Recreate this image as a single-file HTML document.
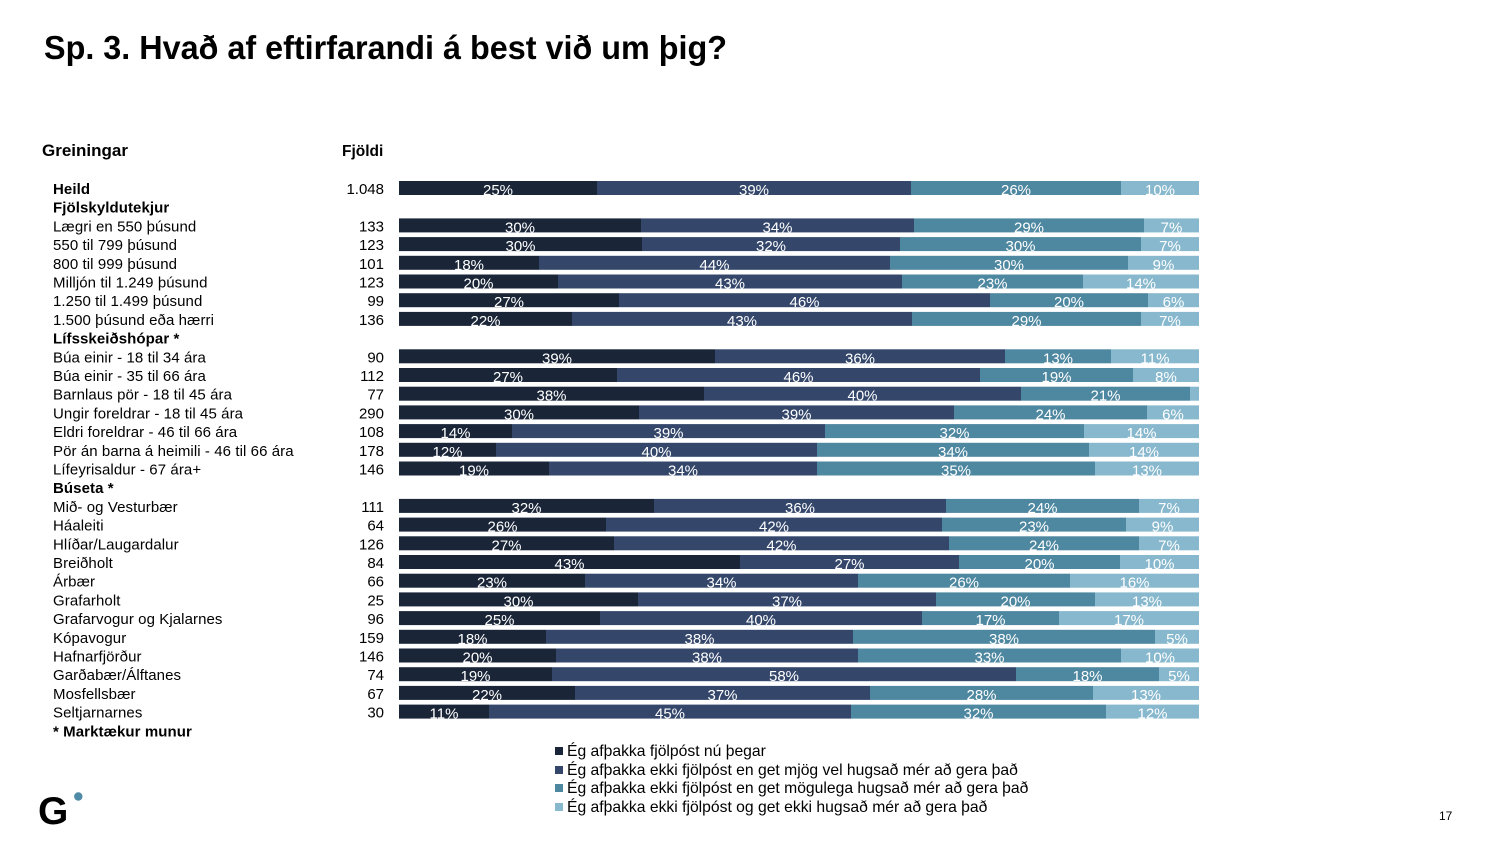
<!DOCTYPE html>
<html><head><meta charset="utf-8"><style>
html,body{margin:0;padding:0;background:#fff;}
svg{display:block;font-family:"Liberation Sans",Arial,sans-serif;}
.l{font-size:15px;fill:#000;letter-spacing:0.08px;}
.g{font-size:15.7px;fill:#000;}
.b{font-weight:bold;}
.n{font-size:15px;fill:#000;text-anchor:end;}
.p{font-size:15px;fill:#fff;text-anchor:middle;}
</style></head><body>
<svg width="1500" height="844" viewBox="0 0 1500 844" xmlns="http://www.w3.org/2000/svg">
<rect width="1500" height="844" fill="#fff"/>
<text x="44" y="59" font-size="33" font-weight="bold" textLength="683" lengthAdjust="spacingAndGlyphs">Sp. 3. Hvað af eftirfarandi á best við um þig?</text>
<text x="42" y="156" font-size="17" font-weight="bold">Greiningar</text>
<text x="342" y="156" font-size="15.5" font-weight="bold">Fjöldi</text>

<g>
<text class="l b" x="53" y="194">Heild</text>
<text class="l b" x="53" y="212.7">Fjölskyldutekjur</text>
<text class="l" x="53" y="231.4">Lægri en 550 þúsund</text>
<text class="l" x="53" y="250.1">550 til 799 þúsund</text>
<text class="l" x="53" y="268.8">800 til 999 þúsund</text>
<text class="l" x="53" y="287.5">Milljón til 1.249 þúsund</text>
<text class="l" x="53" y="306.2">1.250 til 1.499 þúsund</text>
<text class="l" x="53" y="324.9">1.500 þúsund eða hærri</text>
<text class="l b" x="53" y="343.6">Lífsskeiðshópar *</text>
<text class="l" x="53" y="362.3">Búa einir - 18 til 34 ára</text>
<text class="l" x="53" y="381">Búa einir - 35 til 66 ára</text>
<text class="l" x="53" y="399.7">Barnlaus pör - 18 til 45 ára</text>
<text class="l" x="53" y="418.4">Ungir foreldrar - 18 til 45 ára</text>
<text class="l" x="53" y="437.1">Eldri foreldrar - 46 til 66 ára</text>
<text class="l" x="53" y="455.8">Pör án barna á heimili - 46 til 66 ára</text>
<text class="l" x="53" y="474.5">Lífeyrisaldur - 67 ára+</text>
<text class="l b" x="53" y="493.2">Búseta *</text>
<text class="l" x="53" y="511.9">Mið- og Vesturbær</text>
<text class="l" x="53" y="530.6">Háaleiti</text>
<text class="l" x="53" y="549.3">Hlíðar/Laugardalur</text>
<text class="l" x="53" y="568">Breiðholt</text>
<text class="l" x="53" y="586.7">Árbær</text>
<text class="l" x="53" y="605.4">Grafarholt</text>
<text class="l" x="53" y="624.1">Grafarvogur og Kjalarnes</text>
<text class="l" x="53" y="642.8">Kópavogur</text>
<text class="l" x="53" y="661.5">Hafnarfjörður</text>
<text class="l" x="53" y="680.2">Garðabær/Álftanes</text>
<text class="l" x="53" y="698.9">Mosfellsbær</text>
<text class="l" x="53" y="717.6">Seltjarnarnes</text>
<text class="l b" x="53" y="736.3">* Marktækur munur</text>

<text class="n" x="384" y="194">1.048</text>
<text class="n" x="384" y="231.4">133</text>
<text class="n" x="384" y="250.1">123</text>
<text class="n" x="384" y="268.8">101</text>
<text class="n" x="384" y="287.5">123</text>
<text class="n" x="384" y="306.2">99</text>
<text class="n" x="384" y="324.9">136</text>
<text class="n" x="384" y="362.3">90</text>
<text class="n" x="384" y="381">112</text>
<text class="n" x="384" y="399.7">77</text>
<text class="n" x="384" y="418.4">290</text>
<text class="n" x="384" y="437.1">108</text>
<text class="n" x="384" y="455.8">178</text>
<text class="n" x="384" y="474.5">146</text>
<text class="n" x="384" y="511.9">111</text>
<text class="n" x="384" y="530.6">64</text>
<text class="n" x="384" y="549.3">126</text>
<text class="n" x="384" y="568">84</text>
<text class="n" x="384" y="586.7">66</text>
<text class="n" x="384" y="605.4">25</text>
<text class="n" x="384" y="624.1">96</text>
<text class="n" x="384" y="642.8">159</text>
<text class="n" x="384" y="661.5">146</text>
<text class="n" x="384" y="680.2">74</text>
<text class="n" x="384" y="698.9">67</text>
<text class="n" x="384" y="717.6">30</text>
</g>

<!-- bars -->
<g transform="translate(0,181)"><rect x="399" y="0" width="198" height="14" fill="#1a2638"/><rect x="597" y="0" width="314" height="14" fill="#34476b"/><rect x="911" y="0" width="210" height="14" fill="#4e87a0"/><rect x="1121" y="0" width="78" height="14" fill="#87b8cd"/><text class="p" x="498" y="14">25%</text><text class="p" x="754" y="14">39%</text><text class="p" x="1016" y="14">26%</text><text class="p" x="1160" y="14">10%</text></g>
<g transform="translate(0,218.4)"><rect x="399" y="0" width="242" height="14" fill="#1a2638"/><rect x="641" y="0" width="273" height="14" fill="#34476b"/><rect x="914" y="0" width="230" height="14" fill="#4e87a0"/><rect x="1144" y="0" width="55" height="14" fill="#87b8cd"/><text class="p" x="520" y="14">30%</text><text class="p" x="777.5" y="14">34%</text><text class="p" x="1029" y="14">29%</text><text class="p" x="1171.5" y="14">7%</text></g>
<g transform="translate(0,237.1)"><rect x="399" y="0" width="243" height="14" fill="#1a2638"/><rect x="642" y="0" width="258" height="14" fill="#34476b"/><rect x="900" y="0" width="241" height="14" fill="#4e87a0"/><rect x="1141" y="0" width="58" height="14" fill="#87b8cd"/><text class="p" x="520.5" y="14">30%</text><text class="p" x="771" y="14">32%</text><text class="p" x="1020.5" y="14">30%</text><text class="p" x="1170" y="14">7%</text></g>
<g transform="translate(0,255.8)"><rect x="399" y="0" width="140" height="14" fill="#1a2638"/><rect x="539" y="0" width="351" height="14" fill="#34476b"/><rect x="890" y="0" width="238" height="14" fill="#4e87a0"/><rect x="1128" y="0" width="71" height="14" fill="#87b8cd"/><text class="p" x="469" y="14">18%</text><text class="p" x="714.5" y="14">44%</text><text class="p" x="1009" y="14">30%</text><text class="p" x="1163.5" y="14">9%</text></g>
<g transform="translate(0,274.5)"><rect x="399" y="0" width="159" height="14" fill="#1a2638"/><rect x="558" y="0" width="344" height="14" fill="#34476b"/><rect x="902" y="0" width="181" height="14" fill="#4e87a0"/><rect x="1083" y="0" width="116" height="14" fill="#87b8cd"/><text class="p" x="478.5" y="14">20%</text><text class="p" x="730" y="14">43%</text><text class="p" x="992.5" y="14">23%</text><text class="p" x="1141" y="14">14%</text></g>
<g transform="translate(0,293.2)"><rect x="399" y="0" width="220" height="14" fill="#1a2638"/><rect x="619" y="0" width="371" height="14" fill="#34476b"/><rect x="990" y="0" width="158" height="14" fill="#4e87a0"/><rect x="1148" y="0" width="51" height="14" fill="#87b8cd"/><text class="p" x="509" y="14">27%</text><text class="p" x="804.5" y="14">46%</text><text class="p" x="1069" y="14">20%</text><text class="p" x="1173.5" y="14">6%</text></g>
<g transform="translate(0,311.9)"><rect x="399" y="0" width="173" height="14" fill="#1a2638"/><rect x="572" y="0" width="340" height="14" fill="#34476b"/><rect x="912" y="0" width="229" height="14" fill="#4e87a0"/><rect x="1141" y="0" width="58" height="14" fill="#87b8cd"/><text class="p" x="485.5" y="14">22%</text><text class="p" x="742" y="14">43%</text><text class="p" x="1026.5" y="14">29%</text><text class="p" x="1170" y="14">7%</text></g>
<g transform="translate(0,349.3)"><rect x="399" y="0" width="316" height="14" fill="#1a2638"/><rect x="715" y="0" width="290" height="14" fill="#34476b"/><rect x="1005" y="0" width="106" height="14" fill="#4e87a0"/><rect x="1111" y="0" width="88" height="14" fill="#87b8cd"/><text class="p" x="557" y="14">39%</text><text class="p" x="860" y="14">36%</text><text class="p" x="1058" y="14">13%</text><text class="p" x="1155" y="14">11%</text></g>
<g transform="translate(0,368)"><rect x="399" y="0" width="218" height="14" fill="#1a2638"/><rect x="617" y="0" width="363" height="14" fill="#34476b"/><rect x="980" y="0" width="153" height="14" fill="#4e87a0"/><rect x="1133" y="0" width="66" height="14" fill="#87b8cd"/><text class="p" x="508" y="14">27%</text><text class="p" x="798.5" y="14">46%</text><text class="p" x="1056.5" y="14">19%</text><text class="p" x="1166" y="14">8%</text></g>
<g transform="translate(0,386.7)"><rect x="399" y="0" width="305" height="14" fill="#1a2638"/><rect x="704" y="0" width="317" height="14" fill="#34476b"/><rect x="1021" y="0" width="169" height="14" fill="#4e87a0"/><rect x="1190" y="0" width="9" height="14" fill="#87b8cd"/><text class="p" x="551.5" y="14">38%</text><text class="p" x="862.5" y="14">40%</text><text class="p" x="1105.5" y="14">21%</text></g>
<g transform="translate(0,405.4)"><rect x="399" y="0" width="240" height="14" fill="#1a2638"/><rect x="639" y="0" width="315" height="14" fill="#34476b"/><rect x="954" y="0" width="193" height="14" fill="#4e87a0"/><rect x="1147" y="0" width="52" height="14" fill="#87b8cd"/><text class="p" x="519" y="14">30%</text><text class="p" x="796.5" y="14">39%</text><text class="p" x="1050.5" y="14">24%</text><text class="p" x="1173" y="14">6%</text></g>
<g transform="translate(0,424.1)"><rect x="399" y="0" width="113" height="14" fill="#1a2638"/><rect x="512" y="0" width="313" height="14" fill="#34476b"/><rect x="825" y="0" width="259" height="14" fill="#4e87a0"/><rect x="1084" y="0" width="115" height="14" fill="#87b8cd"/><text class="p" x="455.5" y="14">14%</text><text class="p" x="668.5" y="14">39%</text><text class="p" x="954.5" y="14">32%</text><text class="p" x="1141.5" y="14">14%</text></g>
<g transform="translate(0,442.8)"><rect x="399" y="0" width="97" height="14" fill="#1a2638"/><rect x="496" y="0" width="321" height="14" fill="#34476b"/><rect x="817" y="0" width="272" height="14" fill="#4e87a0"/><rect x="1089" y="0" width="110" height="14" fill="#87b8cd"/><text class="p" x="447.5" y="14">12%</text><text class="p" x="656.5" y="14">40%</text><text class="p" x="953" y="14">34%</text><text class="p" x="1144" y="14">14%</text></g>
<g transform="translate(0,461.5)"><rect x="399" y="0" width="150" height="14" fill="#1a2638"/><rect x="549" y="0" width="268" height="14" fill="#34476b"/><rect x="817" y="0" width="278" height="14" fill="#4e87a0"/><rect x="1095" y="0" width="104" height="14" fill="#87b8cd"/><text class="p" x="474" y="14">19%</text><text class="p" x="683" y="14">34%</text><text class="p" x="956" y="14">35%</text><text class="p" x="1147" y="14">13%</text></g>
<g transform="translate(0,498.9)"><rect x="399" y="0" width="255" height="14" fill="#1a2638"/><rect x="654" y="0" width="292" height="14" fill="#34476b"/><rect x="946" y="0" width="193" height="14" fill="#4e87a0"/><rect x="1139" y="0" width="60" height="14" fill="#87b8cd"/><text class="p" x="526.5" y="14">32%</text><text class="p" x="800" y="14">36%</text><text class="p" x="1042.5" y="14">24%</text><text class="p" x="1169" y="14">7%</text></g>
<g transform="translate(0,517.6)"><rect x="399" y="0" width="207" height="14" fill="#1a2638"/><rect x="606" y="0" width="336" height="14" fill="#34476b"/><rect x="942" y="0" width="184" height="14" fill="#4e87a0"/><rect x="1126" y="0" width="73" height="14" fill="#87b8cd"/><text class="p" x="502.5" y="14">26%</text><text class="p" x="774" y="14">42%</text><text class="p" x="1034" y="14">23%</text><text class="p" x="1162.5" y="14">9%</text></g>
<g transform="translate(0,536.3)"><rect x="399" y="0" width="215" height="14" fill="#1a2638"/><rect x="614" y="0" width="335" height="14" fill="#34476b"/><rect x="949" y="0" width="190" height="14" fill="#4e87a0"/><rect x="1139" y="0" width="60" height="14" fill="#87b8cd"/><text class="p" x="506.5" y="14">27%</text><text class="p" x="781.5" y="14">42%</text><text class="p" x="1044" y="14">24%</text><text class="p" x="1169" y="14">7%</text></g>
<g transform="translate(0,555)"><rect x="399" y="0" width="341" height="14" fill="#1a2638"/><rect x="740" y="0" width="219" height="14" fill="#34476b"/><rect x="959" y="0" width="161" height="14" fill="#4e87a0"/><rect x="1120" y="0" width="79" height="14" fill="#87b8cd"/><text class="p" x="569.5" y="14">43%</text><text class="p" x="849.5" y="14">27%</text><text class="p" x="1039.5" y="14">20%</text><text class="p" x="1159.5" y="14">10%</text></g>
<g transform="translate(0,573.7)"><rect x="399" y="0" width="186" height="14" fill="#1a2638"/><rect x="585" y="0" width="273" height="14" fill="#34476b"/><rect x="858" y="0" width="212" height="14" fill="#4e87a0"/><rect x="1070" y="0" width="129" height="14" fill="#87b8cd"/><text class="p" x="492" y="14">23%</text><text class="p" x="721.5" y="14">34%</text><text class="p" x="964" y="14">26%</text><text class="p" x="1134.5" y="14">16%</text></g>
<g transform="translate(0,592.4)"><rect x="399" y="0" width="239" height="14" fill="#1a2638"/><rect x="638" y="0" width="298" height="14" fill="#34476b"/><rect x="936" y="0" width="159" height="14" fill="#4e87a0"/><rect x="1095" y="0" width="104" height="14" fill="#87b8cd"/><text class="p" x="518.5" y="14">30%</text><text class="p" x="787" y="14">37%</text><text class="p" x="1015.5" y="14">20%</text><text class="p" x="1147" y="14">13%</text></g>
<g transform="translate(0,611.1)"><rect x="399" y="0" width="201" height="14" fill="#1a2638"/><rect x="600" y="0" width="322" height="14" fill="#34476b"/><rect x="922" y="0" width="137" height="14" fill="#4e87a0"/><rect x="1059" y="0" width="140" height="14" fill="#87b8cd"/><text class="p" x="499.5" y="14">25%</text><text class="p" x="761" y="14">40%</text><text class="p" x="990.5" y="14">17%</text><text class="p" x="1129" y="14">17%</text></g>
<g transform="translate(0,629.8)"><rect x="399" y="0" width="147" height="14" fill="#1a2638"/><rect x="546" y="0" width="307" height="14" fill="#34476b"/><rect x="853" y="0" width="302" height="14" fill="#4e87a0"/><rect x="1155" y="0" width="44" height="14" fill="#87b8cd"/><text class="p" x="472.5" y="14">18%</text><text class="p" x="699.5" y="14">38%</text><text class="p" x="1004" y="14">38%</text><text class="p" x="1177" y="14">5%</text></g>
<g transform="translate(0,648.5)"><rect x="399" y="0" width="157" height="14" fill="#1a2638"/><rect x="556" y="0" width="302" height="14" fill="#34476b"/><rect x="858" y="0" width="263" height="14" fill="#4e87a0"/><rect x="1121" y="0" width="78" height="14" fill="#87b8cd"/><text class="p" x="477.5" y="14">20%</text><text class="p" x="707" y="14">38%</text><text class="p" x="989.5" y="14">33%</text><text class="p" x="1160" y="14">10%</text></g>
<g transform="translate(0,667.2)"><rect x="399" y="0" width="153" height="14" fill="#1a2638"/><rect x="552" y="0" width="464" height="14" fill="#34476b"/><rect x="1016" y="0" width="143" height="14" fill="#4e87a0"/><rect x="1159" y="0" width="40" height="14" fill="#87b8cd"/><text class="p" x="475.5" y="14">19%</text><text class="p" x="784" y="14">58%</text><text class="p" x="1087.5" y="14">18%</text><text class="p" x="1179" y="14">5%</text></g>
<g transform="translate(0,685.9)"><rect x="399" y="0" width="176" height="14" fill="#1a2638"/><rect x="575" y="0" width="295" height="14" fill="#34476b"/><rect x="870" y="0" width="223" height="14" fill="#4e87a0"/><rect x="1093" y="0" width="106" height="14" fill="#87b8cd"/><text class="p" x="487" y="14">22%</text><text class="p" x="722.5" y="14">37%</text><text class="p" x="981.5" y="14">28%</text><text class="p" x="1146" y="14">13%</text></g>
<g transform="translate(0,704.6)"><rect x="399" y="0" width="90" height="14" fill="#1a2638"/><rect x="489" y="0" width="362" height="14" fill="#34476b"/><rect x="851" y="0" width="255" height="14" fill="#4e87a0"/><rect x="1106" y="0" width="93" height="14" fill="#87b8cd"/><text class="p" x="444" y="14">11%</text><text class="p" x="670" y="14">45%</text><text class="p" x="978.5" y="14">32%</text><text class="p" x="1152.5" y="14">12%</text></g>

<!-- legend -->
<rect x="555" y="747" width="8" height="8" fill="#1a2638"/>
<text class="g" x="567" y="756">Ég afþakka fjölpóst nú þegar</text>
<rect x="555" y="766" width="8" height="8" fill="#34476b"/>
<text class="g" x="567" y="775">Ég afþakka ekki fjölpóst en get mjög vel hugsað mér að gera það</text>
<rect x="555" y="784" width="8" height="8" fill="#4e87a0"/>
<text class="g" x="567" y="793">Ég afþakka ekki fjölpóst en get mögulega hugsað mér að gera það</text>
<rect x="555" y="803" width="8" height="8" fill="#87b8cd"/>
<text class="g" x="567" y="812">Ég afþakka ekki fjölpóst og get ekki hugsað mér að gera það</text>

<!-- logo -->
<text x="38" y="824" font-size="39" font-weight="bold" fill="#000">G</text>
<circle cx="78.3" cy="796.5" r="4.2" fill="#4f8aa6"/>

<text x="1439" y="820" font-size="12" fill="#000">17</text>
</svg>
</body></html>
